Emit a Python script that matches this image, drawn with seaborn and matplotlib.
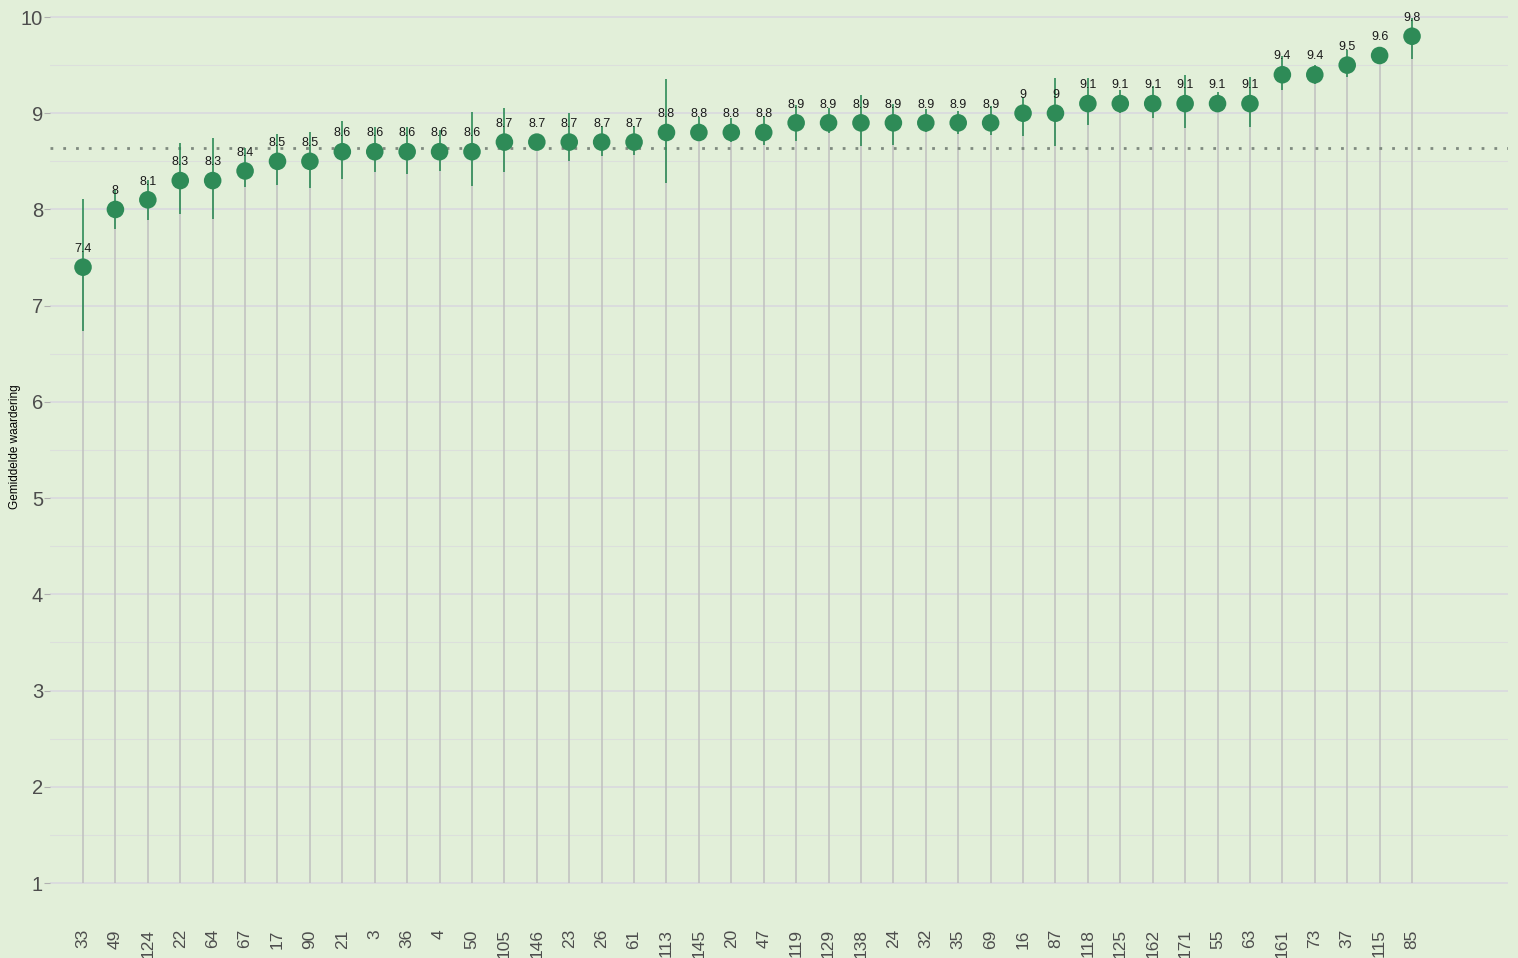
import numpy as np
import pandas as pd
import seaborn as sns
import matplotlib.pyplot as plt
from matplotlib.ticker import MultipleLocator

# Data
ids = ["33", "49", "124", "22", "64", "67", "17", "90", "21", "3", "36", "4", "50", "105",
       "146", "23", "26", "61", "113", "145", "20", "47", "119", "129", "138", "24", "32",
       "35", "69", "16", "87", "118", "125", "162", "171", "55", "63", "161", "73", "37",
       "115", "85"]
means = [7.4, 8.0, 8.1, 8.3, 8.3, 8.4, 8.5, 8.5, 8.6, 8.6, 8.6, 8.6, 8.6, 8.7,
         8.7, 8.7, 8.7, 8.7, 8.8, 8.8, 8.8, 8.8, 8.9, 8.9, 8.9, 8.9, 8.9,
         8.9, 8.9, 9.0, 9.0, 9.1, 9.1, 9.1, 9.1, 9.1, 9.1, 9.4, 9.4, 9.5,
         9.6, 9.8]
lower = [6.74, 7.80, 7.89, 7.95, 7.90, 8.23, 8.25, 8.22, 8.32, 8.39, 8.37, 8.40, 8.24, 8.39,
         8.62, 8.50, 8.56, 8.57, 8.28, 8.72, 8.70, 8.67, 8.71, 8.79, 8.66, 8.67, 8.81,
         8.78, 8.77, 8.76, 8.66, 8.88, 9.00, 8.95, 8.85, 9.02, 8.86, 9.24, 9.30, 9.38,
         9.54, 9.56]
upper = [8.11, 8.20, 8.31, 8.69, 8.74, 8.64, 8.78, 8.81, 8.92, 8.86, 8.86, 8.83, 9.01, 9.05,
         8.78, 9.00, 8.87, 8.87, 9.36, 8.96, 8.95, 8.97, 9.09, 9.05, 9.19, 9.10, 9.04,
         9.02, 9.07, 9.17, 9.37, 9.37, 9.24, 9.28, 9.40, 9.22, 9.38, 9.59, 9.50, 9.66,
         9.68, 9.99]
overall_mean = 8.64

df = pd.DataFrame({"id": ids, "mean": means, "lo": lower, "hi": upper})
df["pos"] = np.arange(len(df))

bg = "#e2efd9"
green = "#2e8b57"

sns.set_theme(style="white", rc={"axes.facecolor": bg, "figure.facecolor": bg})
plt.rcParams["font.family"] = ["Liberation Sans", "DejaVu Sans"]

fig = plt.figure(figsize=(15.18, 9.58), dpi=100)
ax = fig.add_axes([0.0329, 0.0605, 0.9605, 0.9343])

# grey stems from 1 up to the point
ax.vlines(df["pos"], 1, df["mean"], color="#c0c0c0", lw=1.1, zorder=1)
# green interval bars
ax.vlines(df["pos"], df["lo"], df["hi"], color=green, lw=1.4, alpha=0.85, zorder=2)
# overall average
ax.axhline(overall_mean, color="#7f8a7f", lw=2, linestyle=(0, (1, 3.6)), zorder=1.5)

sns.scatterplot(data=df, x="pos", y="mean", s=160, color=green, edgecolor="none",
                zorder=3, ax=ax, legend=False)

for _, r in df.iterrows():
    ax.text(r["pos"], r["mean"] + 0.19, f"{r['mean']:g}", ha="center", va="center",
            fontsize=9, color="#1a1a1a", zorder=4)

ax.set_xlim(-1.02, 43.96)
ax.set_ylim(0.823, 10.125)
ax.set_xticks(df["pos"])
ax.set_xticklabels(df["id"], rotation=90, fontsize=12.5, color="#4d4d4d")
ax.set_yticks(range(1, 11))
ax.yaxis.set_minor_locator(MultipleLocator(0.5))
ax.tick_params(axis="y", which="major", labelsize=14.5, labelcolor="#4d4d4d",
               length=4, width=0.8, color="#b0b0b0", left=True, pad=1)
ax.tick_params(axis="y", which="minor", length=0)
ax.tick_params(axis="x", length=0, pad=21)
ax.grid(axis="y", which="major", color="#d9d9de", lw=1.2, zorder=0)
ax.grid(axis="y", which="minor", color="#dcdfdc", lw=0.8, zorder=0)
ax.set_axisbelow(True)
for s in ax.spines.values():
    s.set_visible(False)

ax.set_xlabel("")
ax.set_ylabel("")
fig.text(15 / 1518, 0.534, "Gemiddelde waardering", rotation=90, ha="center",
         va="center", fontsize=8.5, color="black")

fig.savefig("out.png", dpi=100, facecolor=bg)
